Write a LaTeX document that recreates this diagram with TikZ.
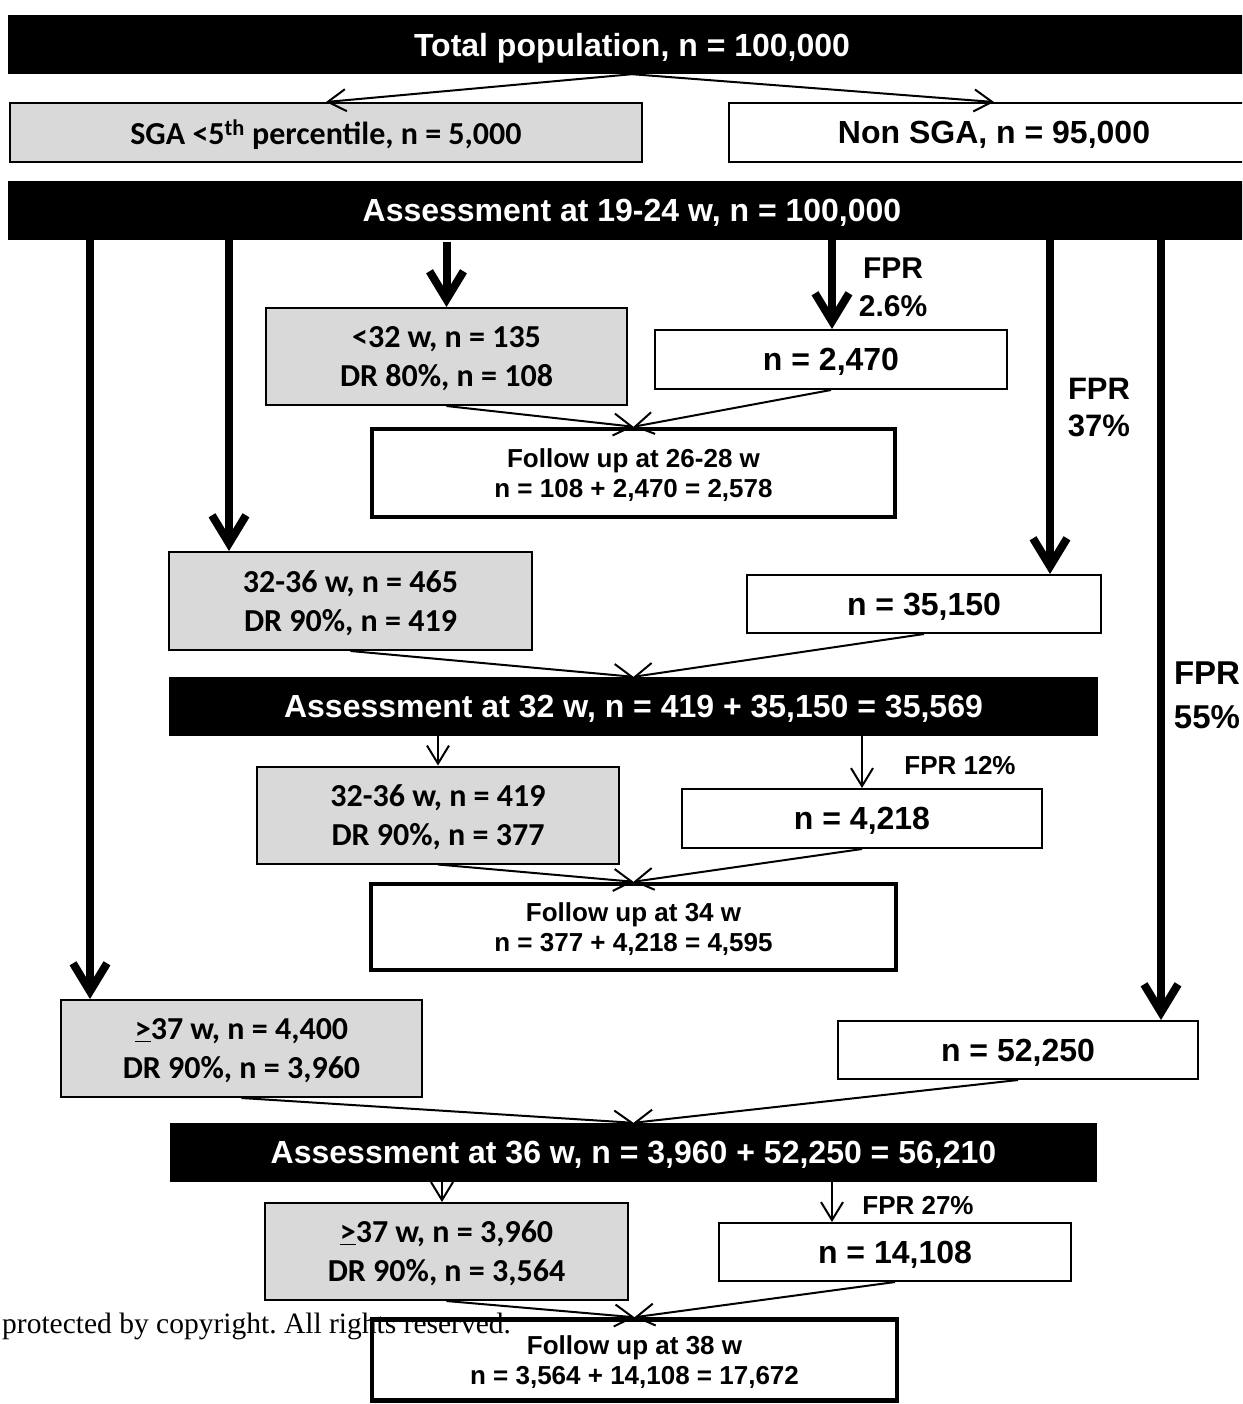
\documentclass[tikz,border=0pt]{standalone}
\usepackage{fontspec}
\setmainfont{Liberation Sans}
\newfontfamily\calfont{Carlito}
\newfontfamily\serfont{Liberation Serif}
\usetikzlibrary{arrows.meta}
\definecolor{boxgray}{HTML}{D9D9D9}
\frenchspacing
\begin{document}
\begin{tikzpicture}[x=1pt,y=-1pt,
  box/.style={draw=black, line width=2pt, inner sep=0pt, align=center, text depth=0pt, font=\bfseries\fontsize{32}{39}\selectfont},
  graybox/.style={box, fill=boxgray, font=\calfont\bfseries\fontsize{32}{39}\selectfont},
  whitebox/.style={box, fill=white},
  fubox/.style={box, fill=white, line width=4.5pt, font=\bfseries\fontsize{26}{30}\selectfont},
  bar/.style={fill=black, inner sep=0pt, text=white, align=center, text depth=0pt, font=\bfseries\fontsize{32}{39}\selectfont},
  conn/.style={line width=2pt, -{Straight Barb[length=18pt,width=22pt]}},
  bigconn/.style={line width=8pt, -{Straight Barb[length=28pt,width=34pt]}},
  fpr/.style={inner sep=0pt, align=center}]
\useasboundingbox (0,0) rectangle (1242,1404);
\clip (0,0) rectangle (1242,1404);
\fill[white] (0,0) rectangle (1242,1404);

% boxes
\node[bar, minimum width=1248pt, minimum height=59pt] (total) at (632,44.5) {Total population, n = 100,000};
\node[graybox, minimum width=632pt, minimum height=59pt] (sga) at (326,132.5) {SGA <5\textsuperscript{th} percentile, n = 5,000};
\node[whitebox, minimum width=530pt, minimum height=59pt] (nonsga) at (994,132.5) {Non SGA, n = 95,000};
\node[bar, minimum width=1248pt, minimum height=59pt] (a1924) at (632,210.5) {Assessment at 19-24 w, n = 100,000};

\node[graybox, minimum width=361pt, minimum height=97pt] (lt32) at (446.5,356.5) {<32 w, n = 135\\DR 80\%, n = 108};
\node[whitebox, minimum width=352pt, minimum height=59pt] (n2470) at (831,359.5) {n = 2,470};
\node[fubox, minimum width=523pt, minimum height=88pt] (fu1) at (633.5,473) {Follow up at 26-28 w\\n = 108 + 2,470 = 2,578};

\node[graybox, minimum width=363pt, minimum height=98pt] (w3236a) at (350.5,601) {32-36 w, n = 465\\DR 90\%, n = 419};
\node[whitebox, minimum width=354pt, minimum height=58pt] (n35150) at (924,604) {n = 35,150};
\node[bar, minimum width=929pt, minimum height=59pt] (a32) at (633.5,706.5) {Assessment at 32 w, n = 419 + 35,150 = 35,569};

\node[graybox, minimum width=362pt, minimum height=97pt] (w3236b) at (438,815) {32-36 w, n = 419\\DR 90\%, n = 377};
\node[whitebox, minimum width=360pt, minimum height=59pt] (n4218) at (862,818.5) {n = 4,218};
\node[fubox, minimum width=525pt, minimum height=86pt] (fu2) at (633.5,927) {Follow up at 34 w\\n = 377 + 4,218 = 4,595};

\node[graybox, minimum width=361pt, minimum height=97pt] (ge37a) at (241.5,1048.5) {\underline{>}37 w, n = 4,400\\DR 90\%, n = 3,960};
\node[whitebox, minimum width=360pt, minimum height=58pt] (n52250) at (1018,1050) {n = 52,250};
\node[bar, minimum width=927pt, minimum height=59pt] (a36) at (633.5,1152.5) {Assessment at 36 w, n = 3,960 + 52,250 = 56,210};

\node[graybox, minimum width=363pt, minimum height=97pt] (ge37b) at (446.5,1251.5) {\underline{>}37 w, n = 3,960\\DR 90\%, n = 3,564};
\node[whitebox, minimum width=352pt, minimum height=58pt] (n14108) at (895,1252) {n = 14,108};
\node[fubox, minimum width=525pt, minimum height=81pt] (fu3) at (634.5,1360) {Follow up at 38 w\\n = 3,564 + 14,108 = 17,672};

% labels
\node[fpr, font=\bfseries\fontsize{30}{38}\selectfont] (l26) at (893,287) {FPR\\2.6\%};
\node[fpr, font=\bfseries\fontsize{31}{37}\selectfont] (l37) at (1099,408) {FPR\\37\%};
\node[fpr, font=\bfseries\fontsize{33}{44}\selectfont] (l55) at (1207,695) {FPR\\55\%};
\node[fpr, font=\bfseries\fontsize{26}{30}\selectfont] (l12) at (960,766) {FPR 12\%};
\node[fpr, font=\bfseries\fontsize{26}{30}\selectfont] (l27) at (918,1206) {FPR 27\%};

% connectors: top
\draw[conn] (total.south) -- (sga.north);
\draw[conn] (total.south) -- (nonsga.north);

% thick arrows from 19-24 w
\coordinate (s1) at (90,240);
\coordinate (s2) at (229,240);
\coordinate (s3) at (446.5,242);
\coordinate (s4) at (832,240);
\coordinate (s5) at (1050,240);
\coordinate (s6) at (1161,240);
\draw[bigconn] (s1) -- (s1 |- ge37a.north);
\draw[bigconn] (s2) -- (s2 |- w3236a.north);
\draw[bigconn] (s3) -- (lt32.north);
\draw[bigconn] (s4) -- (s4 |- n2470.north);
\draw[bigconn] (s5) -- (s5 |- n35150.north);
\draw[bigconn] (s6) -- (s6 |- n52250.north);

% merges
\draw[conn] (lt32.south) -- (fu1.north);
\draw[conn] (n2470.south) -- (fu1.north);
\draw[conn] (w3236a.south) -- (a32.north);
\draw[conn] (n35150.south) -- (a32.north);
\draw[conn] (w3236b.south) -- (fu2.north);
\draw[conn] (n4218.south) -- (fu2.north);
\draw[conn] (ge37a.south) -- (a36.north);
\draw[conn] (n52250.south) -- (a36.north);
\draw[conn] (ge37b.south) -- (fu3.north);
\draw[conn] (n14108.south) -- (fu3.north);

% thin arrows below bars
\draw[conn] (w3236b.north |- a32.south) -- (w3236b.north);
\draw[conn] (n4218.north |- a32.south) -- (n4218.north);
\coordinate (u1) at (442,1182);
\coordinate (u2) at (832,1182);
\draw[conn] (u1) -- (u1 |- ge37b.north);
\draw[conn] (u2) -- (u2 |- n14108.north);

% watermark
\node[anchor=west, inner sep=0pt, font=\serfont\fontsize{29.5}{34}\selectfont] (wm) at (2,1326) {protected by copyright. All rights reserved.};
\end{tikzpicture}
\end{document}
